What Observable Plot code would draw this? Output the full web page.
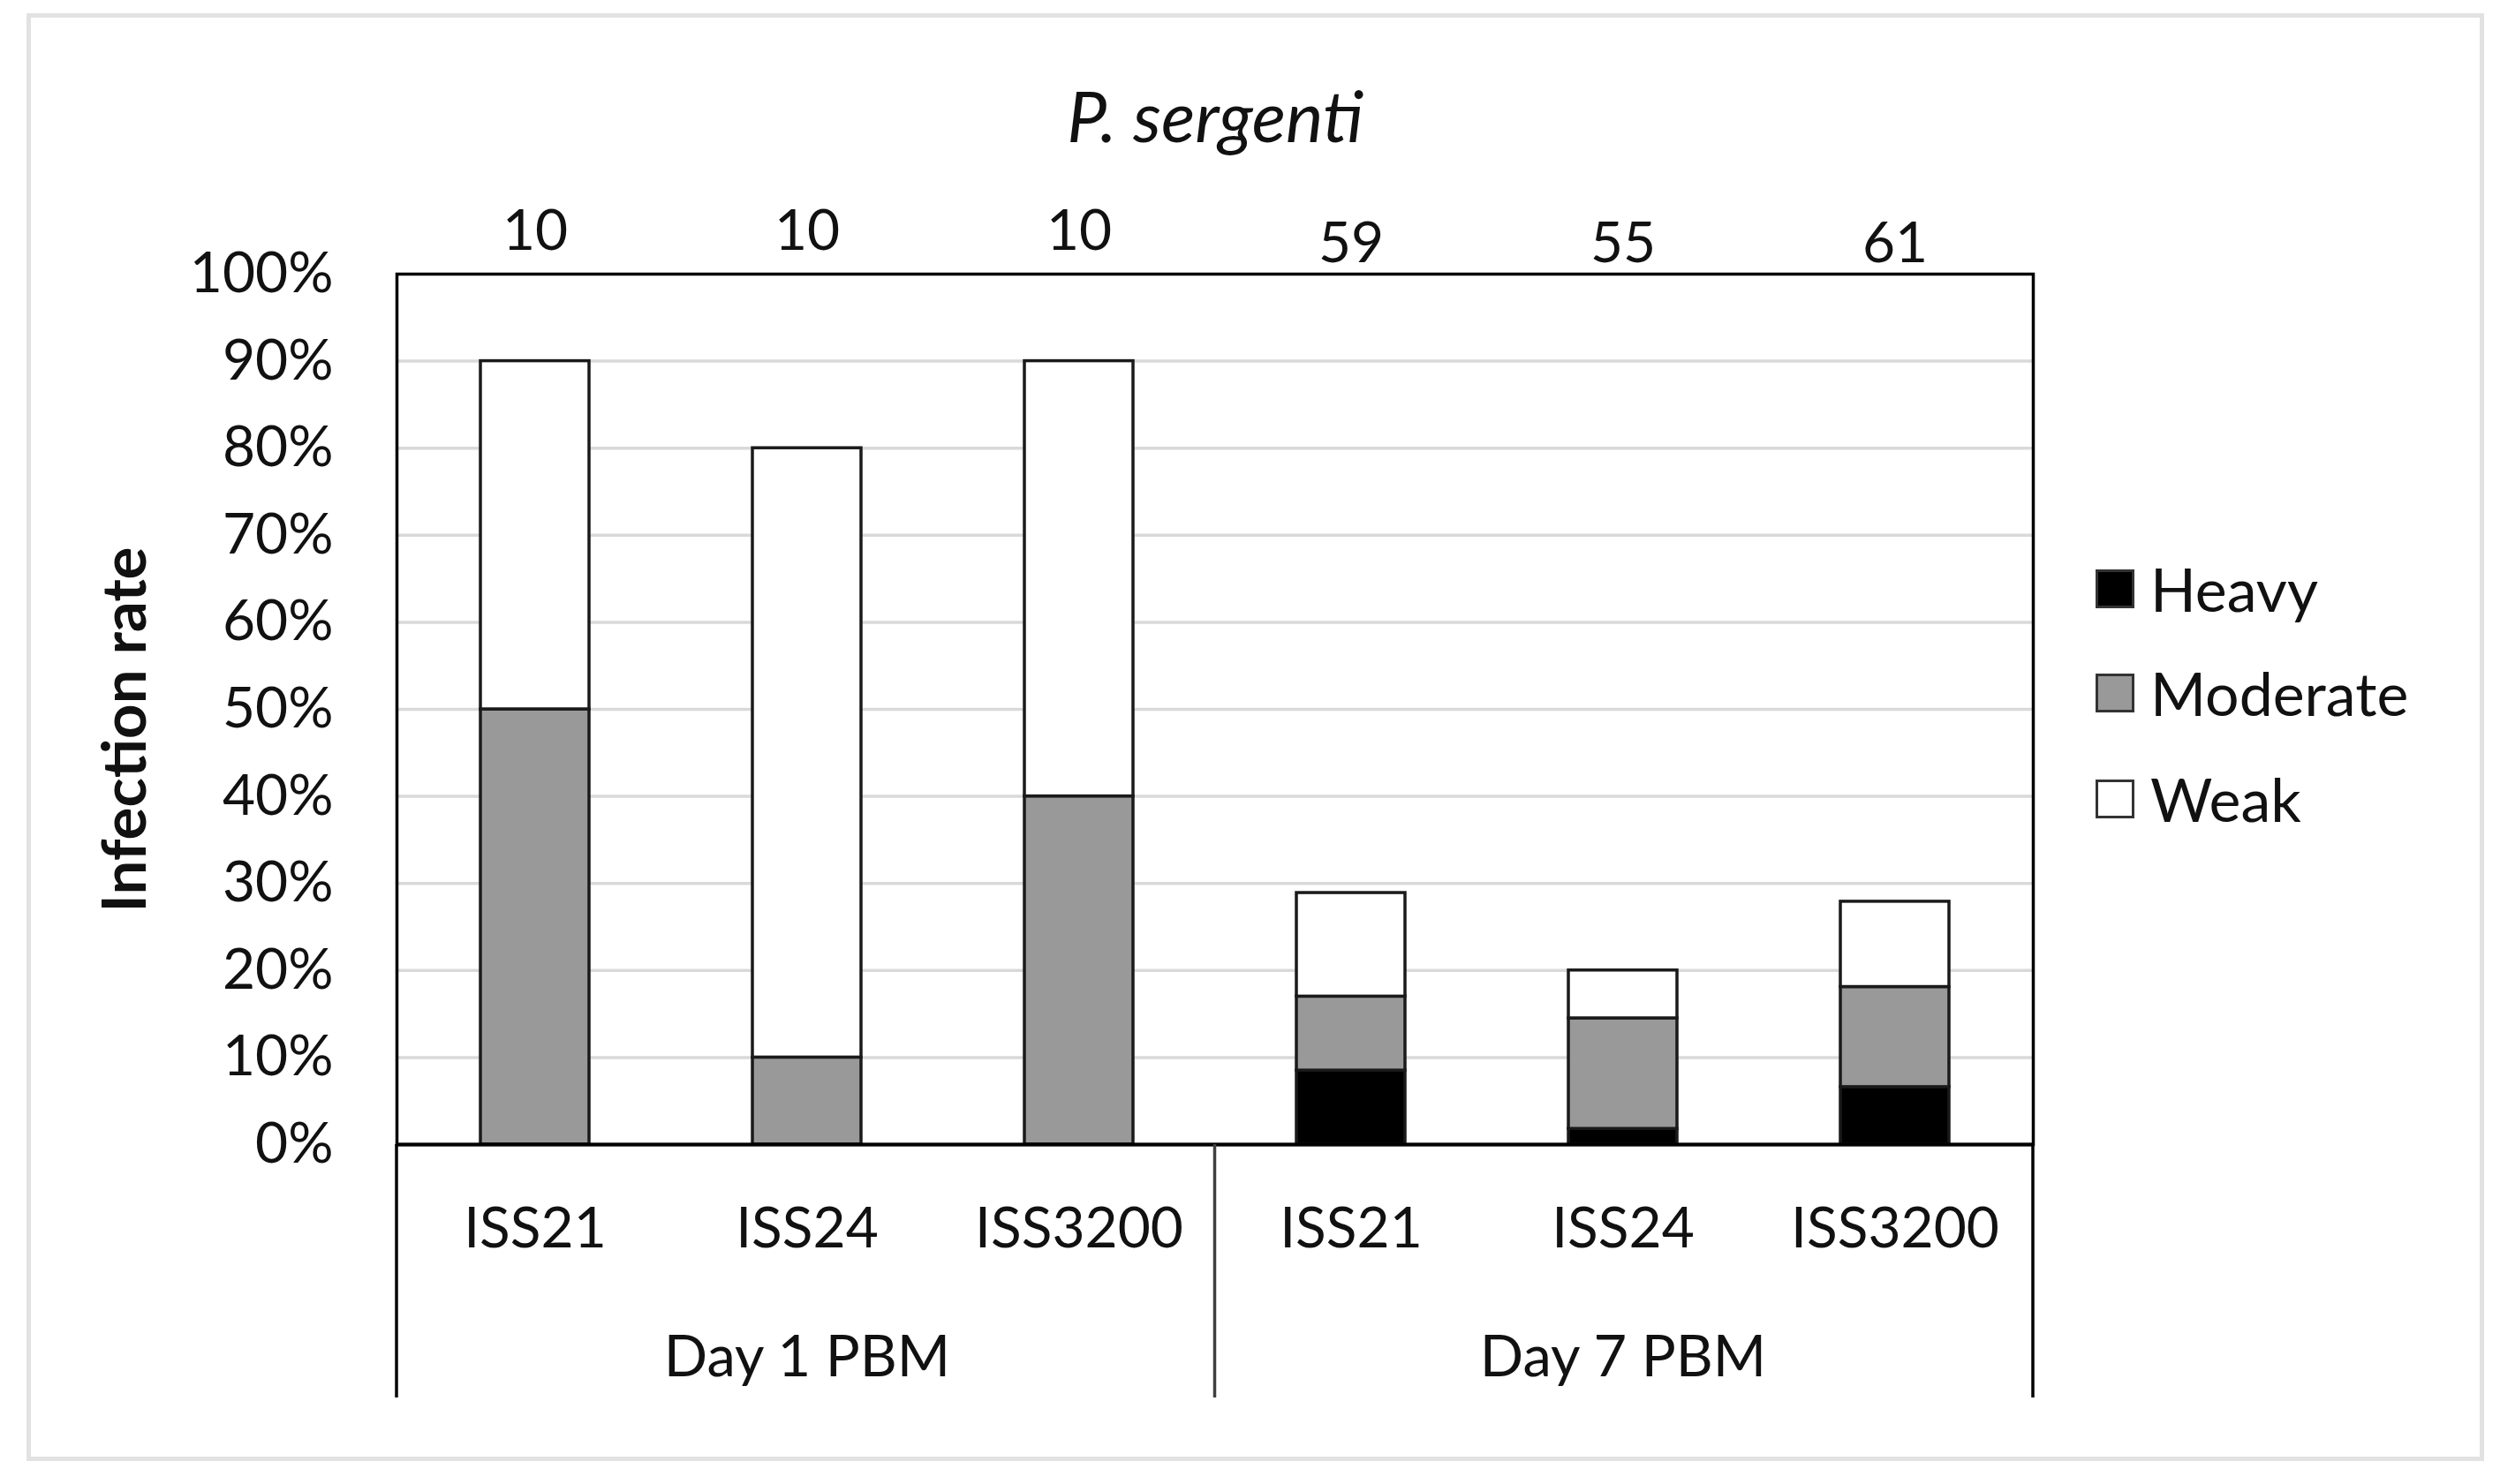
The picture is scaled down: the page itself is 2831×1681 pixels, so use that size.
<!DOCTYPE html>
<html>
<head>
<meta charset="utf-8">
<script src="https://cdn.jsdelivr.net/npm/d3@7"></script>
<script src="https://cdn.jsdelivr.net/npm/@observablehq/plot@0.6"></script>
<style>
  html, body { margin: 0; padding: 0; background: #fff; }
  #wrap { position: relative; width: 2831px; height: 1681px; font-family: Lato, "Open Sans", sans-serif; color: #111; }
  #border { position: absolute; left: 30px; top: 15px; width: 2783px; height: 1640px; box-sizing: border-box; border: 5px solid #e2e2e2; pointer-events: none; }
  #chart { position: absolute; left: 0; top: 0; }
  #legend { position: absolute; left: 2373px; top: 0; }
  .item { position: absolute; left: 0; display: flex; align-items: center; height: 60px; white-space: nowrap; }
  .sw { width: 44px; height: 44px; box-sizing: border-box; border: 3px solid #333; margin-right: 18px; }
  .lab { font-size: 68px; line-height: 1; }
</style>
</head>
<body>
<div id="wrap">
  <div id="border"></div>
  <div id="chart"></div>
  <div id="legend"></div>
</div>
<script>
// ---- data ----
const groups = ["Day 1 PBM", "Day 7 PBM"];
const strains = ["ISS21", "ISS24", "ISS3200"];
const sampleSizes = [10, 10, 10, 59, 55, 61];
const levels = ["Heavy", "Moderate", "Weak"];
const levelColors = ["#000000", "#999999", "#ffffff"];
const heavy = [0, 0, 0, 8.5, 1.8, 6.6];
const moderate = [50, 10, 40, 8.5, 12.7, 11.5];
const weak = [40, 70, 50, 11.9, 5.5, 9.8];
const yTicks = [0, 10, 20, 30, 40, 50, 60, 70, 80, 90, 100];
const title = "P. sergenti";
const yLabel = "Infection rate";

// ---- build tables ----
const cats = [];
groups.forEach(g => strains.forEach(s => cats.push({group: g, strain: s, key: g + "|" + s})));
cats.forEach((c, i) => c.n = sampleSizes[i]);
const keys = cats.map(c => c.key);
const series = [heavy, moderate, weak];
const rows = [];
cats.forEach((c, i) => levels.forEach((lv, j) => rows.push({key: c.key, level: lv, value: series[j][i]})));
const groupRows = groups.map(g => ({group: g, key: g + "|" + strains[1]}));

const plot = Plot.plot({
  width: 2831,
  height: 1681,
  marginLeft: 449,
  marginRight: 529,
  marginTop: 310,
  marginBottom: 385,
  x: {domain: keys, paddingInner: 0.6, paddingOuter: 0.3, axis: null},
  y: {domain: [0, 100], axis: null},
  color: {domain: levels, range: levelColors},
  style: {fontFamily: "Lato, 'Open Sans', sans-serif", fontSize: "64px", background: "transparent", color: "#111"},
  marks: [
    Plot.ruleY(yTicks.filter(t => t > 0 && t < 100), {stroke: "#d9d9d9", strokeWidth: 3.5}),
    Plot.barY(rows.filter(d => d.value > 0), {x: "key", y: "value", fill: "level", stroke: "#1a1a1a", strokeWidth: 3.5}),
    Plot.frame({stroke: "#000", strokeWidth: 3.5}),
    Plot.ruleY([0], {stroke: "#000", strokeWidth: 4}),
    Plot.axisY({ticks: yTicks, tickFormat: d => d + "%", tickSize: 0, tickPadding: 72, fontSize: 64, fill: "#111", label: null}),
    // y label
    Plot.text([yLabel], {text: d => d, frameAnchor: "left", textAnchor: "middle", lineAnchor: "middle", rotate: -90, dx: -307, dy: 23, fontSize: 69, fontWeight: "bold", fill: "#111"}),
    // title
    Plot.text([title], {text: d => d, frameAnchor: "top", lineAnchor: "middle", dy: -175, fontSize: 80, fontStyle: "italic", fill: "#111"}),
    // sample sizes
    Plot.text(cats.filter(c => c.group === groups[0]), {x: "key", text: "n", frameAnchor: "top", lineAnchor: "middle", dy: -48, fontSize: 64, fill: "#111"}),
    Plot.text(cats.filter(c => c.group === groups[1]), {x: "key", text: "n", frameAnchor: "top", lineAnchor: "middle", dy: -34, fontSize: 64, fill: "#111"}),
    // strain labels
    Plot.text(cats, {x: "key", text: "strain", frameAnchor: "bottom", lineAnchor: "middle", dy: 96, fontSize: 64, fill: "#111"}),
    // group labels
    Plot.text(groupRows, {x: "key", text: "group", frameAnchor: "bottom", lineAnchor: "middle", dy: 242, fontSize: 65, fill: "#111"})
  ]
});
document.getElementById("chart").appendChild(plot);

// group dividers below the axis, positioned with the plot's own scales
const xs = plot.scale("x");
const ys = plot.scale("y");
const bw = xs.bandwidth;
const y0 = ys.apply(0);
const yBottom = y0 + 287;
const mid = (xs.apply(keys[2]) + bw + xs.apply(keys[3])) / 2;
const svg = d3.select(plot);
const divs = [
  {x: xs.range[0], y1: y0, c: "#000"},
  {x: mid, y1: y0, c: "#404040"},
  {x: xs.range[1], y1: y0, c: "#000"}
];
svg.append("g").selectAll("line").data(divs).join("line")
  .attr("x1", d => d.x).attr("x2", d => d.x)
  .attr("y1", d => d.y1).attr("y2", yBottom)
  .attr("stroke", d => d.c).attr("stroke-width", 3.5);

// legend
const rowCenters = [667, 785, 905];
const legend = d3.select("#legend");
levels.forEach((lv, i) => {
  const item = legend.append("div").attr("class", "item").style("top", (rowCenters[i] - 30) + "px");
  item.append("div").attr("class", "sw").style("background", levelColors[i]);
  item.append("span").attr("class", "lab").text(lv);
});
</script>
</body>
</html>
